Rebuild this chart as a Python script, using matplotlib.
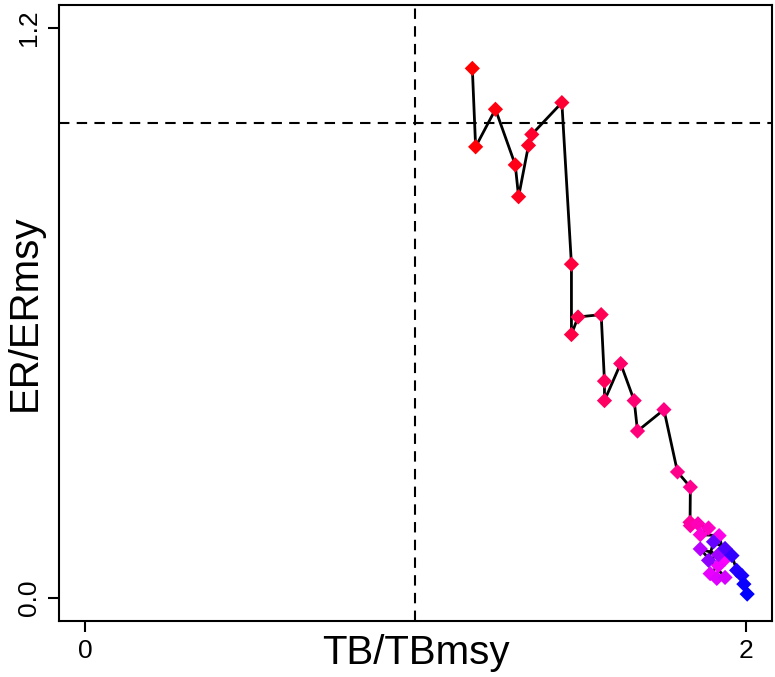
import numpy as np
import matplotlib
matplotlib.use("Agg")
import matplotlib.pyplot as plt
from matplotlib.colors import LinearSegmentedColormap

plt.rcParams['font.family'] = ['Liberation Sans', 'DejaVu Sans']

# --- data, in time order ---
tb_ratio = [1.172, 1.182, 1.242, 1.302, 1.312, 1.342, 1.352, 1.443, 1.472, 1.472,
            1.492, 1.562, 1.572, 1.572, 1.621, 1.662, 1.672, 1.752, 1.793, 1.832,
            1.831,
            # cluster near the end
            1.832, 1.855, 1.887, 1.862, 1.919, 1.937, 1.917, 1.892, 1.912, 1.937,
            1.862, 1.917, 1.887, 1.902, 1.937, 1.958, 1.972, 1.988, 1.994, 2.004]
er_ratio = [1.114, 0.949, 1.028, 0.911, 0.844, 0.952, 0.975, 1.042, 0.702, 0.554,
            0.591, 0.596, 0.456, 0.415, 0.493, 0.415, 0.351, 0.396, 0.265, 0.233,
            0.159,
            0.152, 0.156, 0.147, 0.133, 0.131, 0.082, 0.068, 0.051, 0.041, 0.043,
            0.103, 0.091, 0.079, 0.118, 0.104, 0.089, 0.058, 0.047, 0.029, 0.008]

# colour ramp positions: red -> magenta -> blue over the years
ramp_pos = np.concatenate([np.linspace(0.0, 0.30, 21),
                           [0.33, 0.36, 0.39, 0.42, 0.46, 0.50, 0.52, 0.54, 0.56, 0.58,
                            0.64, 0.68, 0.72, 0.80, 0.84, 0.90, 0.93, 0.95, 0.98, 1.0]])

ramp = LinearSegmentedColormap.from_list("rmb", ["#FF0000", "#FF00FF", "#0000FF"])
colors = ramp(ramp_pos)

W, H = 775, 677
fig = plt.figure(figsize=(W / 100, H / 100), dpi=100)
ax = fig.add_axes([58.7 / W, 1 - 620.7 / H, (772.3 - 58.7) / W, (620.7 - 4.7) / H])

ax.axvline(1.0, color="black", lw=1.5, dashes=(5, 3.5), zorder=1)
ax.axhline(1.0, color="black", lw=1.5, dashes=(5, 3.5), zorder=1)

ax.plot(tb_ratio, er_ratio, color="black", lw=2, zorder=2)
ax.scatter(tb_ratio, er_ratio, c=colors, marker="D", s=60, linewidths=0, zorder=3)

ax.set_xlim(-0.08, 2.08)
ax.set_ylim(-0.048, 1.248)
ax.set_xticks([0, 2])
ax.set_xticklabels(["0", "2"])
ax.set_yticks([0.0, 1.2])
ax.set_yticklabels(["0.0", "1.2"], rotation=90, va="center")

for s in ax.spines.values():
    s.set_linewidth(1.5)
ax.tick_params(length=8, width=1.5, labelsize=19, pad=5)

ax.text(0.5, -0.052, "TB/TBmsy", transform=ax.transAxes, ha="center", va="center",
        fontsize=29)
ax.text(-0.048, 0.5, "ER/ERmsy", transform=ax.transAxes, ha="center", va="center",
        rotation=90, fontsize=29)

fig.savefig("out.png", dpi=100)
